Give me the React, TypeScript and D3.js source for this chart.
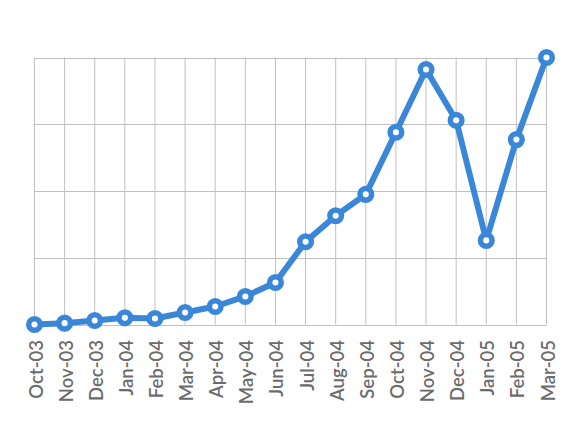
import React from 'react';
import * as d3 from 'd3';

const months = [
  'Oct-03', 'Nov-03', 'Dec-03', 'Jan-04', 'Feb-04', 'Mar-04', 'Apr-04', 'May-04', 'Jun-04',
  'Jul-04', 'Aug-04', 'Sep-04', 'Oct-04', 'Nov-04', 'Dec-04', 'Jan-05', 'Feb-05', 'Mar-05'
];
const values = [
  0, 0.02, 0.06, 0.1, 0.09, 0.18, 0.27, 0.42, 0.63,
  1.24, 1.63, 1.95, 2.88, 3.82, 3.06, 1.26, 2.77, 4.0
];
const yTicks = [0, 1, 2, 3, 4];

const width = 586;
const height = 441;
const margin = { top: 57, right: 40, bottom: 117, left: 34 };

export default function App() {
  const x = d3.scalePoint<string>()
    .domain(months)
    .range([margin.left + 0.5, width - margin.right + 0.5]);
  const y = d3.scaleLinear()
    .domain([0, 4])
    .range([height - margin.bottom + 0.5, margin.top + 0.5]);

  const line = d3.line<number>()
    .x((_, i) => x(months[i])!)
    .y(d => y(d));

  const x0 = x(months[0])!;
  const x1 = x(months[months.length - 1])!;

  return (
    <svg width={width} height={height} style={{ position: 'absolute', left: 0, top: 0 }}>
      <rect width={width} height={height} fill="#fff" />
      {/* grid */}
      <g stroke="#c0c0c0" strokeWidth={1}>
        {yTicks.map(t => (
          <line key={t} x1={x0} x2={x1} y1={Math.round(y(t)) + 0.5} y2={Math.round(y(t)) + 0.5} />
        ))}
        {months.map(m => (
          <line key={m} x1={x(m)} x2={x(m)} y1={y(4)} y2={y(0)} />
        ))}
      </g>
      {/* line */}
      <path d={line(values) || ''} fill="none" stroke="#3a87d9" strokeWidth={6} strokeLinejoin="round" />
      {values.map((v, i) => (
        <circle key={i} cx={x(months[i])} cy={y(v)} r={5.8} fill="#fff" stroke="#3a87d9" strokeWidth={5.5} />
      ))}
      {/* labels */}
      <g fontFamily="Lato, 'DejaVu Sans', sans-serif" fontSize={18.5} fontWeight={600} fill="#6c6c6c">
        {months.map(m => (
          <text
            key={m}
            transform={`translate(${x(m)! + 1},${y(0) + 15.5}) rotate(-90)`}
            textAnchor="end"
            dominantBaseline="central"
          >
            {m}
          </text>
        ))}
      </g>
    </svg>
  );
}
